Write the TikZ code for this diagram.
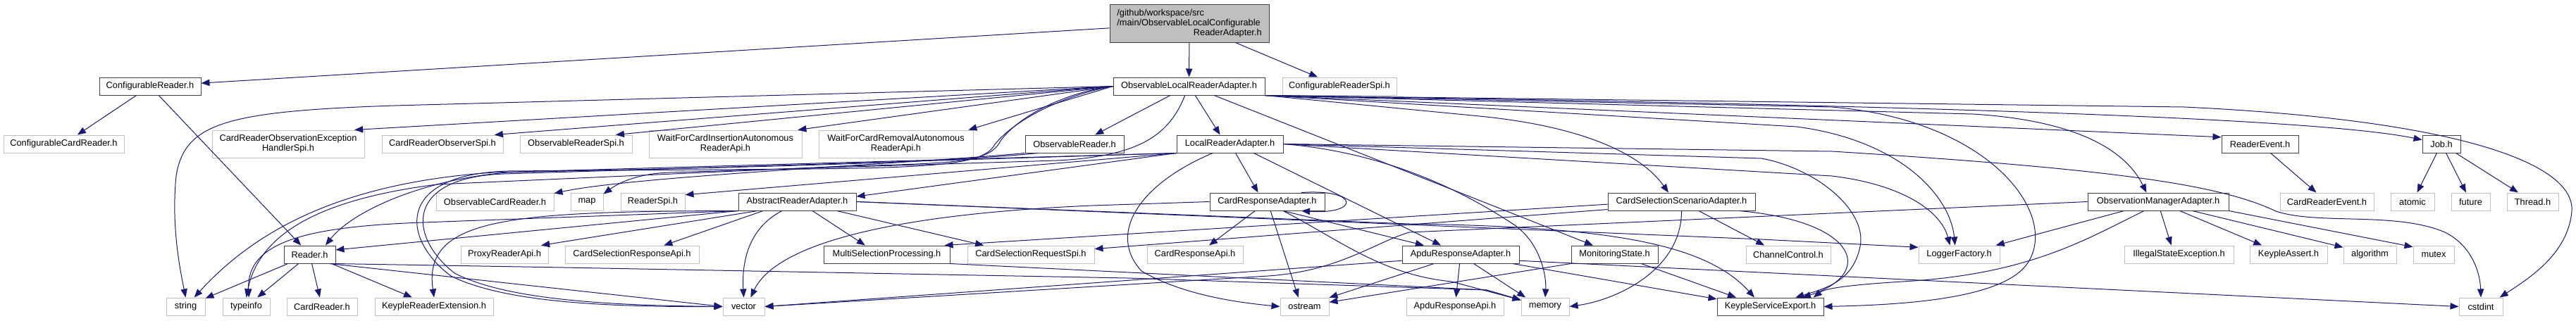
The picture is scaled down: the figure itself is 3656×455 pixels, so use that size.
\documentclass[tikz,border=0pt]{standalone}
\usepackage{fontspec}
\newfontfamily\helv{Liberation Sans}
\usetikzlibrary{arrows.meta}
\definecolor{edgeblue}{HTML}{191970}
\tikzset{
  hdr/.style={rectangle, draw=black!75, fill=white, line width=0.75pt, inner sep=0pt,
              minimum height=18.75pt, align=center, font=\helv\fontsize{9.6}{10.5}\selectfont},
  sys/.style={hdr, draw=black!25},
  rootbox/.style={hdr, fill=black!25, minimum height=40.5pt, text width=154pt, align=left},
  twoline/.style={minimum height=29.25pt},
  wd/.style={minimum width=#1*0.75pt},
  dep/.style={draw=edgeblue, line width=0.75pt, -{Triangle[length=9pt,width=7pt]}},
}
\begin{document}
\begin{tikzpicture}[x=0.75pt, y=-0.75pt]
  \useasboundingbox (0,0) rectangle (3656,455);

  \node[rootbox, wd=226] (root) at (1688,33) {/github/workspace/src\\/main/ObservableLocalConfigurable\\\hspace*{\fill}ReaderAdapter.h\hspace*{\fill}};

  \node[hdr, wd=144] (cfgRd)    at (213,122.5)    {ConfigurableReader.h};
  \node[hdr, wd=215] (olra)     at (1687.5,122.5) {ObservableLocalReaderAdapter.h};
  \node[sys, wd=162] (cfgRdSpi) at (1901,122.5)   {ConfigurableReaderSpi.h};

  \node[sys, wd=171] (cfgCardRd) at (90.5,204.5)   {ConfigurableCardReader.h};
  \node[sys, twoline, wd=216] (obsExcSpi) at (409,204.5) {CardReaderObservationException\\HandlerSpi.h};
  \node[sys, wd=172] (obsSpi)    at (628,204.5)    {CardReaderObserverSpi.h};
  \node[sys, wd=159] (obsRdSpi)  at (817.5,204.5)  {ObservableReaderSpi.h};
  \node[sys, twoline, wd=217] (waitIns) at (1029.5,204.5) {WaitForCardInsertionAutonomous\\ReaderApi.h};
  \node[sys, twoline, wd=219] (waitRem) at (1271.5,204.5) {WaitForCardRemovalAutonomous\\ReaderApi.h};
  \node[hdr, wd=140] (obsRd)     at (1525,204.5)   {ObservableReader.h};
  \node[hdr, wd=151] (localRd)   at (1745.5,204.5) {LocalReaderAdapter.h};
  \node[hdr, wd=109] (rdEvent)   at (3207.5,204.5) {ReaderEvent.h};
  \node[hdr, wd=54]  (job)       at (3465,204.5)   {Job.h};

  \node[sys, wd=167] (obsCardRd)  at (702.5,286.5)  {ObservableCardReader.h};
  \node[sys, wd=46]  (map)        at (833,286.5)    {map};
  \node[sys, wd=91]  (rdSpi)      at (926.5,286.5)  {ReaderSpi.h};
  \node[hdr, wd=167] (absRd)      at (1131.5,286.5) {AbstractReaderAdapter.h};
  \node[hdr, wd=163] (cardRespAd) at (1798.5,286.5) {CardResponseAdapter.h};
  \node[hdr, wd=209] (selScen)    at (2386.5,286.5) {CardSelectionScenarioAdapter.h};
  \node[hdr, wd=200] (obsMgr)     at (3063,286.5)   {ObservationManagerAdapter.h};
  \node[sys, wd=133] (cardRdEvent) at (3302.5,286.5) {CardReaderEvent.h};
  \node[sys, wd=62]  (atomic)     at (3424,286.5)   {atomic};
  \node[sys, wd=55]  (future)     at (3506.5,286.5) {future};
  \node[sys, wd=73]  (thread)     at (3594.5,286.5) {Thread.h};

  \node[hdr, wd=73]  (reader)      at (439.5,361.5)  {Reader.h};
  \node[sys, wd=124] (proxyApi)    at (716,361.5)    {ProxyReaderApi.h};
  \node[sys, wd=190] (selRespApi)  at (897,361.5)    {CardSelectionResponseApi.h};
  \node[hdr, wd=179] (multiSel)    at (1258.5,361.5) {MultiSelectionProcessing.h};
  \node[sys, wd=180] (selReqSpi)   at (1463,361.5)   {CardSelectionRequestSpi.h};
  \node[sys, wd=136] (cardRespApi) at (1696,361.5)   {CardResponseApi.h};
  \node[hdr, wd=166] (apduAd)      at (2073,361.5)   {ApduResponseAdapter.h};
  \node[hdr, wd=123] (monState)    at (2291.5,361.5) {MonitoringState.h};
  \node[sys, wd=120] (chanCtl)     at (2538,361.5)   {ChannelControl.h};
  \node[sys, wd=115] (logger)      at (2780.5,361.5) {LoggerFactory.h};
  \node[sys, wd=155] (illState)    at (3092.5,361.5) {IllegalStateException.h};
  \node[sys, wd=110] (kAssert)     at (3248,361.5)   {KeypleAssert.h};
  \node[sys, wd=75]  (algorithm)   at (3363.5,361.5) {algorithm};
  \node[sys, wd=58]  (mutex)       at (3454,361.5)   {mutex};

  \node[sys, wd=55]  (string)    at (263.5,435.5)  {string};
  \node[sys, wd=67]  (typeinfo)  at (349.5,435.5)  {typeinfo};
  \node[sys, wd=100] (cardRd)    at (457,435.5)    {CardReader.h};
  \node[sys, wd=168] (rdExt)     at (616,435.5)    {KeypleReaderExtension.h};
  \node[sys, wd=59]  (vector)    at (1055.5,435.5) {vector};
  \node[sys, wd=69]  (ostream)   at (1851.5,435.5) {ostream};
  \node[sys, wd=138] (apduApi)   at (2065,435.5)   {ApduResponseApi.h};
  \node[sys, wd=68]  (memory)    at (2193,435.5)   {memory};
  \node[hdr, wd=151] (svcExport) at (2512.5,435.5) {KeypleServiceExport.h};
  \node[sys, wd=62]  (cstdint)   at (3521,435.5)   {cstdint};

  \draw[dep] (root) -- (cfgRd);
  \draw[dep] (root) -- (olra);
  \draw[dep] (root) -- (cfgRdSpi);
  \draw[dep] (cfgRd) -- (cfgCardRd);
  \draw[dep] (cfgRd) -- (reader);

  \draw[dep] (olra.west) -- (560,150) .. controls (320,158) and (262,175) .. (250,250) .. controls (243,320) and (255,380) .. (string.north);
  \draw[dep] (olra.west) -- (obsExcSpi.12);
  \draw[dep] (olra.west) -- (obsSpi.10);
  \draw[dep] (olra.west) -- (obsRdSpi.13);
  \draw[dep] (olra.west) -- (waitIns.11);
  \draw[dep] (olra.west) -- (waitRem.11);
  \draw[dep] (olra.206) -- (obsRd.24);
  \draw[dep] (olra.304) -- (localRd.137);
  \draw[dep] (olra.340) -- (monState.157);
  \draw[dep] (olra.west) .. controls (1520,130) and (1450,160) .. (1420,200) .. controls (1405,232) and (1350,232) .. (1200,236) -- (620,262) .. controls (480,280) and (370,320) .. (typeinfo.north);
  \draw[dep] (olra.west) .. controls (1510,135) and (1440,170) .. (1412,205) .. controls (1398,232) and (1340,238) .. (1150,240) -- (720,243) .. controls (560,248) and (570,340) .. (640,392) .. controls (720,432) and (880,436) .. (vector.west);
  \draw[dep] (olra.246) .. controls (1660,190) and (1620,222) .. (1500,228) -- (950,245) .. controls (900,247) and (875,262) .. (map.25);
  \draw[dep] (olra.south east) -- (2100,165) .. controls (2250,180) and (2330,220) .. (selScen.145);
  \draw[dep] (olra.south east) -- (2800,162) .. controls (2960,172) and (3020,220) .. (obsMgr.142);
  \draw[dep] (olra.south east) -- (rdEvent.170);
  \draw[dep] (olra.south east) .. controls (2800,150) and (3300,170) .. (job.168);
  \draw[dep] (olra.south east) -- (3100,152) .. controls (3480,170) and (3655,230) .. (3650,300) .. controls (3645,360) and (3590,395) .. (cstdint.26);
  \draw[dep] (olra.south east) -- (2550,180) .. controls (2700,200) and (2768,280) .. (logger.114);
  \draw[dep] (olra.south east) -- (2600,152) .. controls (2820,170) and (2920,300) .. (2880,370) .. controls (2850,425) and (2700,433) .. (svcExport.east);

  \draw[dep] (obsRd.south west) .. controls (1300,232) and (900,250) .. (obsCardRd.8);
  \draw[dep] (obsRd.194) .. controls (1300,235) and (900,240) .. (720,245) .. controls (600,255) and (500,300) .. (reader.30);

  \draw[dep] (localRd.302) -- (cardRespAd.135);
  \draw[dep] (localRd.339) -- (apduAd.155);
  \draw[dep] (localRd.south west) -- (absRd.5);
  \draw[dep] (localRd.south west) -- (rdSpi.12);
  \draw[dep] (localRd.south west) -- (700,245) .. controls (480,260) and (360,330) .. (string.47);
  \draw[dep] (localRd.south west) -- (715,247) .. controls (575,252) and (578,335) .. (645,388) .. controls (722,428) and (880,434) .. (vector.west);
  \draw[dep] (localRd.208) .. controls (1620,260) and (1570,330) .. (1620,385) .. controls (1680,420) and (1760,430) .. (ostream.west);
  \draw[dep] (localRd.east) .. controls (1950,215) and (2060,260) .. (2150,320) .. controls (2185,345) and (2195,390) .. (memory.north);
  \draw[dep] (localRd.east) -- (2500,225) .. controls (2580,240) and (2650,300) .. (2640,350) .. controls (2630,400) and (2590,410) .. (svcExport.20);
  \draw[dep] (localRd.east) -- (2600,250) .. controls (2700,262) and (2755,300) .. (logger.135);
  \draw[dep] (localRd.east) -- (2600,215) .. controls (3000,240) and (3150,262) .. (3230,300) .. controls (3290,320) and (3400,300) .. (3470,330) .. controls (3510,350) and (3520,390) .. (cstdint.north);

  \draw[dep] (absRd.south west) -- (reader.10);
  \draw[dep] (absRd.193) -- (proxyApi.14);
  \draw[dep] (absRd.195) -- (selRespApi.16);
  \draw[dep] (absRd.329) -- (multiSel.157);
  \draw[dep] (absRd.347) -- (selReqSpi.169);
  \draw[dep] (absRd.211) .. controls (1070,320) and (1052,360) .. (vector.north);
  \draw[dep] (absRd.south west) .. controls (720,300) and (600,310) .. (rdExt.north);
  \draw[dep] (absRd.south west) -- (600,316) .. controls (430,322) and (350,345) .. (typeinfo.74);
  \draw[dep] (absRd.east) -- (2000,318) .. controls (2280,322) and (2420,345) .. (svcExport.150);
  \draw[dep] (absRd.east) -- (2500,340) -- (logger.170);

  \draw[dep] (cardRespAd.15) .. controls (1930,268) and (1930,305) .. (cardRespAd.345);
  \draw[dep] (cardRespAd.217) -- (cardRespApi.33);
  \draw[dep] (cardRespAd.290) -- (ostream.124);
  \draw[dep] (cardRespAd.330) -- (apduAd.166);
  \draw[dep] (cardRespAd.west) -- (1550,292) .. controls (1250,305) and (1100,350) .. (vector.53);
  \draw[dep] (cardRespAd.330) .. controls (1900,340) and (1960,390) .. (2060,400) -- (memory.165);

  \draw[dep] (apduAd) -- (apduApi);
  \draw[dep] (apduAd.199) -- (ostream.20);
  \draw[dep] (apduAd.325) -- (memory.155);
  \draw[dep] (apduAd.350) -- (svcExport.172);
  \draw[dep] (apduAd.354) -- (cstdint.west);
  \draw[dep] (apduAd.186) -- (vector.east);

  \draw[dep] (selScen.332) -- (chanCtl.159);
  \draw[dep] (selScen.south) .. controls (2387,380) and (2300,425) .. (memory.east);
  \draw[dep] (selScen.351) .. controls (2640,315) and (2660,390) .. (svcExport.16);
  \draw[dep] (selScen.182) -- (multiSel.9);
  \draw[dep] (selScen.186) -- (selReqSpi.5);

  \draw[dep] (monState.341) -- (svcExport.165);
  \draw[dep] (monState.south west) -- (ostream.10);
  \draw[dep] (multiSel.south east) -- (2110,412) -- (memory.165);

  \draw[dep] (reader) -- (string);
  \draw[dep] (reader) -- (typeinfo);
  \draw[dep] (reader) -- (cardRd);
  \draw[dep] (reader) -- (rdExt);
  \draw[dep] (reader.335) -- (vector.west);
  \draw[dep] (reader.340) -- (800,380) -- (1600,395) -- (2110,412) -- (memory.165);

  \draw[dep] (obsMgr.195) -- (logger.14);
  \draw[dep] (obsMgr.284) -- (illState.130);
  \draw[dep] (obsMgr.337) -- (kAssert.161);
  \draw[dep] (obsMgr.345) -- (algorithm.165);
  \draw[dep] (obsMgr.south east) -- (mutex.160);
  \draw[dep] (obsMgr.213) .. controls (2960,340) and (2880,390) .. (2700,400) .. controls (2620,405) and (2590,410) .. (svcExport.12);
  \draw[dep] (obsMgr.west) -- (2000,330) .. controls (1950,345) and (1900,385) .. (1800,392) -- (vector.east);

  \draw[dep] (rdEvent) -- (cardRdEvent);
  \draw[dep] (job) -- (atomic);
  \draw[dep] (job) -- (future);
  \draw[dep] (job) -- (thread);
\end{tikzpicture}
\end{document}
